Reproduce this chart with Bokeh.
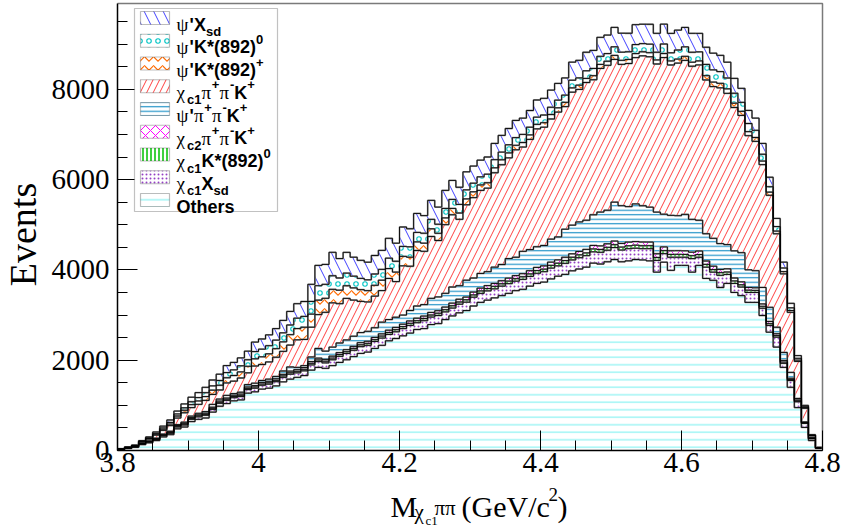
import numpy as np
from bokeh.plotting import figure
from bokeh.models import Range1d, FixedTicker, Label, BoxAnnotation, CustomJSTickFormatter
from bokeh.embed import file_html
from bokeh.resources import INLINE

# ---------------- binning ----------------
x_start, x_stop, n_bins = 3.8, 4.8, 100
y_max = 9900
x_major = [3.8, 4.0, 4.2, 4.4, 4.6, 4.8]
y_major = [0, 2000, 4000, 6000, 8000]

# ---------------- event counts per bin (bottom of the stack first) ----------------
others = [20, 45, 70, 130, 170, 220, 300, 350, 480, 520,
          640, 690, 720, 850, 980, 1040, 1100, 1120, 1270, 1300,
          1360, 1380, 1430, 1520, 1580, 1620, 1660, 1780, 1840, 1820,
          1880, 1950, 2010, 2080, 2150, 2180, 2260, 2330, 2430, 2480,
          2540, 2600, 2680, 2700, 2790, 2810, 2900, 2980, 3050, 3100,
          3200, 3280, 3330, 3380, 3430, 3480, 3540, 3570, 3640, 3700,
          3730, 3800, 3860, 3900, 3980, 4020, 4060, 4150, 4130, 4180,
          4230, 4180, 4200, 4230, 4220, 4200, 3950, 4170, 3990, 4100,
          4100, 3950, 4100, 3810, 3770, 3610, 3700, 3500, 3430, 3280,
          3280, 2990, 2620, 2290, 1840, 1400, 950, 510, 220, 45]

chic1_xsd = [3, 5, 8, 12, 15, 20, 25, 30, 40, 45,
             50, 55, 60, 60, 65, 70, 70, 75, 80, 80,
             85, 90, 95, 100, 110, 100, 105, 115, 130, 120,
             130, 135, 140, 140, 150, 150, 155, 160, 140, 150,
             160, 170, 150, 175, 165, 180, 170, 175, 190, 185,
             195, 200, 205, 200, 210, 215, 210, 220, 215, 225,
             230, 240, 230, 245, 240, 250, 255, 250, 260, 255,
             265, 260, 270, 250, 250, 270, 260, 190, 290, 180,
             180, 300, 180, 250, 180, 270, 200, 200, 190, 220,
             220, 160, 150, 220, 90, 150, 130, 90, 40, 10]

chic1_kst0 = [2, 3, 5, 6, 9, 10, 12, 15, 16, 19,
              20, 22, 21, 24, 23, 26, 25, 27, 25, 28,
              27, 30, 29, 32, 31, 34, 33, 36, 35, 38,
              37, 40, 38, 42, 41, 43, 40, 45, 43, 46,
              44, 47, 45, 49, 46, 50, 48, 51, 49, 53,
              51, 54, 52, 56, 53, 57, 55, 58, 56, 60,
              57, 61, 58, 62, 60, 63, 61, 64, 62, 65,
              63, 66, 64, 67, 65, 66, 64, 67, 63, 65,
              62, 64, 60, 62, 57, 59, 53, 55, 50, 51,
              46, 44, 39, 35, 29, 23, 17, 10, 6, 2]

chic2_ppk = [2, 3, 5, 7, 9, 11, 13, 15, 18, 20,
             22, 23, 25, 24, 27, 26, 29, 28, 31, 30,
             33, 32, 35, 34, 37, 36, 39, 38, 41, 40,
             43, 42, 45, 44, 47, 46, 49, 48, 51, 50,
             53, 52, 55, 54, 57, 56, 59, 58, 61, 60,
             63, 62, 65, 64, 67, 66, 69, 68, 71, 70,
             72, 71, 74, 73, 76, 75, 78, 77, 79, 78,
             81, 80, 82, 80, 83, 81, 83, 82, 81, 80,
             81, 78, 79, 75, 75, 71, 71, 66, 65, 60,
             58, 52, 49, 41, 36, 27, 21, 12, 6, 2]

psip_ppk = [3, 5, 6, 8, 10, 12, 14, 16, 20, 24,
            30, 34, 36, 63, 45, 59, 37, 41, 54, 53,
            45, 49, 51, 75, 92, 51, 43, 102, 214, 183,
            200, 214, 216, 225, 224, 221, 215, 259, 236, 225,
            203, 232, 270, 254, 312, 305, 304, 357, 300, 374,
            311, 325, 308, 361, 359, 433, 406, 495, 468, 458,
            451, 510, 508, 621, 635, 654, 646, 680, 750, 743,
            862, 836, 785, 834, 803, 773, 923, 724, 784, 775,
            807, 728, 680, 604, 618, 572, 536, 601, 646, 391,
            378, 365, 314, 144, 177, 130, 34, 10, 18, 3]

chic1_ppk = [3, 6, 7, 22, 39, 67, 82, 125, 145, 208,
             188, 198, 248, 220, 200, 275, 275, 315, 260, 380,
             355, 380, 425, 435, 485, 610, 580, 660, 750, 860,
             980, 870, 920, 800, 690, 650, 700, 700, 910, 790,
             1090, 980, 1230, 1180, 1370, 1250, 1520, 1600, 1470, 1670,
             1780, 1840, 1850, 2090, 2210, 2230, 2380, 2310, 2440, 2610,
             2620, 2660, 2765, 2715, 2945, 2935, 3050, 2990, 3180, 3210,
             3160, 3130, 3170, 3240, 3320, 3330, 3280, 3470, 3330, 3380,
             3410, 3390, 3440, 3405, 3360, 3450, 3350, 3175, 3040, 2970,
             2865, 2720, 2480, 2070, 1740, 1330, 820, 303, 36, 1]

psip_kstp = [2, 4, 6, 10, 14, 20, 26, 35, 45, 55,
             65, 75, 85, 95, 105, 115, 125, 135, 145, 160,
             170, 180, 190, 210, 230, 250, 270, 290, 320, 310,
             300, 300, 280, 270, 260, 250, 240, 230, 220, 210,
             210, 200, 190, 180, 170, 160, 150, 140, 140, 130,
             130, 120, 120, 110, 110, 110, 100, 100, 100, 100,
             100, 100, 95, 95, 95, 95, 90, 90, 90, 90,
             90, 90, 90, 90, 90, 90, 90, 90, 90, 90,
             90, 90, 90, 95, 100, 100, 100, 95, 90, 90,
             85, 80, 70, 60, 50, 40, 30, 15, 6, 2]

psip_kst0 = [2, 4, 6, 10, 15, 20, 28, 35, 45, 55,
             65, 75, 85, 95, 105, 115, 125, 135, 145, 160,
             170, 180, 190, 200, 215, 230, 240, 280, 320, 310,
             300, 270, 280, 260, 250, 240, 250, 240, 230, 240,
             220, 230, 210, 220, 210, 200, 210, 200, 190, 200,
             190, 180, 190, 180, 170, 180, 170, 180, 170, 160,
             170, 160, 170, 160, 170, 160, 170, 160, 180, 170,
             190, 180, 170, 200, 180, 190, 170, 210, 180, 200,
             210, 220, 200, 250, 270, 260, 240, 220, 200, 180,
             160, 150, 120, 100, 80, 60, 40, 20, 8, 2]

psip_xsd = [3, 5, 8, 15, 20, 30, 40, 55, 65, 85,
            100, 110, 120, 130, 140, 155, 165, 175, 190, 210,
            225, 240, 255, 275, 300, 320, 330, 380, 450, 440,
            520, 430, 460, 420, 400, 390, 410, 420, 440, 400,
            430, 400, 420, 390, 420, 380, 400, 420, 380, 400,
            380, 370, 380, 360, 370, 360, 380, 360, 370, 380,
            370, 380, 370, 380, 400, 390, 410, 400, 420, 410,
            430, 420, 410, 440, 430, 440, 420, 440, 430, 440,
            430, 420, 410, 380, 370, 360, 350, 330, 310, 290,
            270, 240, 210, 180, 130, 100, 60, 30, 10, 3]

# (counts, hatch pattern, hatch colour, hatch tile size, hatch weight) bottom -> top
layers = [
    (others,     "-",  "#8af2f2", 7.5, 1.2),
    (chic1_xsd,  ".",  "#9440c4", 4.0, 2.2),
    (chic1_kst0, "|",  "#00c000", 4.0, 1.5),
    (chic2_ppk,  "x",  "#ff00ff", 10.0, 1.0),
    (psip_ppk,   "-",  "#2394c8", 4.5, 1.2),
    (chic1_ppk,  "/",  "#ff2a2a", 13.0, 0.9),
    (psip_kstp,  "v",  "#ff6a00", 9.0, 1.1),
    (psip_kst0,  "o",  "#00c4c4", 9.0, 1.1),
    (psip_xsd,   "\\", "#2a2aff", 19.0, 0.9),
]

edges = np.linspace(x_start, x_stop, n_bins + 1)

# page geometry: the plotting box spans x 117..822 and y 3..450 (px);
# the frame covers the whole page and both axes are pinned inside it
W, H = 846, 528
BOX_L, BOX_R, BOX_T, BOX_B = 117, 822, 3, 450
x_per_px = (x_stop - x_start) / (BOX_R - BOX_L)
y_per_px = y_max / (BOX_B - BOX_T)
x_range = Range1d(x_start - BOX_L * x_per_px, x_stop + (W - BOX_R) * x_per_px)
y_range = Range1d(-(H - BOX_B) * y_per_px, y_max + BOX_T * y_per_px)

p = figure(width=W, height=H, x_range=x_range, y_range=y_range,
           output_backend="svg", toolbar_location=None,
           min_border_left=0, min_border_right=0, min_border_top=0, min_border_bottom=0)
p.xgrid.visible = False
p.ygrid.visible = False
p.background_fill_color = "white"
p.border_fill_color = "white"
p.outline_line_color = None

# stacked, hatched histogram bodies
cum = np.zeros(n_bins)
tops = []
for counts, pat, col, sc, wt in layers:
    lower = cum.copy()
    cum = cum + np.asarray(counts, dtype=float)
    xs, ys = [], []
    for i in range(n_bins):
        xs += [edges[i], edges[i + 1]]
        ys += [cum[i], cum[i]]
    for i in reversed(range(n_bins)):
        xs += [edges[i + 1], edges[i]]
        ys += [lower[i], lower[i]]
    p.patch(xs, ys, fill_color="white", line_color=None,
            hatch_pattern=pat, hatch_color=col, hatch_scale=sc, hatch_weight=wt)
    tops.append(cum.copy())

# histogram outlines
for top in tops:
    p.step(edges, list(top) + [top[-1]], mode="after", line_color="#9a9a9a", line_width=1.8)
for top in tops:
    p.step(edges, list(top) + [top[-1]], mode="after", line_color="black", line_width=0.9)

# top and right edges of the plotting box
p.line([x_start, x_stop, x_stop], [y_max, y_max, 0], line_color="#7a7a7a", line_width=1.5)

# axes, pinned at x = 3.8 and y = 0
serif = "Liberation Serif"
x_minor = [round(3.8 + 0.05 * k, 2) for k in range(21)]
y_minor = list(range(0, 10000, 500))
p.xaxis.fixed_location = x_start
p.xaxis.fixed_location = 0
p.yaxis.fixed_location = x_start
p.xaxis.bounds = (x_start, x_stop)
p.yaxis.bounds = (0, y_max)
p.xaxis.ticker = FixedTicker(ticks=x_major, minor_ticks=x_minor)
p.yaxis.ticker = FixedTicker(ticks=y_major, minor_ticks=y_minor)
p.xaxis.formatter = CustomJSTickFormatter(code="return tick.toFixed(1).replace(/\\.0$/, '');")
for ax in (p.xaxis, p.yaxis):
    ax.major_tick_in = 20
    ax.major_tick_out = 0
    ax.minor_tick_in = 10
    ax.minor_tick_out = 0
    ax.axis_line_color = "black"
    ax.axis_line_width = 1.5
    ax.major_tick_line_color = "black"
    ax.minor_tick_line_color = "black"
    ax.major_label_text_font = serif
    ax.major_label_text_font_size = "29px"
    ax.major_label_text_color = "black"
p.yaxis.major_label_standoff = 8
p.xaxis.major_label_standoff = 2


def sy(cy):
    return H - cy


def put(text, cx, cy, size, font="Liberation Sans", style="bold", **kw):
    p.add_layout(Label(x=cx, y=sy(cy), x_units="screen", y_units="screen", text=text,
                       text_font=font, text_font_size=f"{size}px", text_font_style=style,
                       text_color="black", **kw))


def put_left(text, cx, cy, size, font="Liberation Sans", style="bold"):
    put(text, cx, cy, size, font, style, text_align="left", text_baseline="alphabetic")


# y-axis title
put("Events", 22, 234, 38, serif, "normal", text_align="center", text_baseline="middle",
    angle=90, angle_units="deg")

# x-axis title: M_{chi_c1 pi pi} (GeV/c^2)
put_left("M", 390, 506, 30, serif, "normal")
put_left("χ", 414, 511, 21, serif, "normal")
put_left("c1", 425, 520, 13, serif, "normal")
put_left("ππ", 434, 507, 21, serif, "normal")
put_left("(GeV/c", 461, 506, 30, serif, "normal")
put_left("2", 548, 494, 19, serif, "normal")
put_left(")", 557, 506, 30, serif, "normal")

# legend
p.add_layout(BoxAnnotation(left=134, right=277, top=sy(8), bottom=sy(211),
                           left_units="screen", right_units="screen",
                           top_units="screen", bottom_units="screen",
                           fill_color="white", fill_alpha=1.0,
                           line_color="#333333", line_width=1.2))

legend_rows = [
    [("ψ", "g"), ("'", "b"), ("X", "b"), ("sd", "sub")],
    [("ψ", "g"), ("'", "b"), ("K*(892)", "b"), ("0", "sup")],
    [("ψ", "g"), ("'", "b"), ("K*(892)", "b"), ("+", "sup")],
    [("χ", "g"), ("c1", "sub"), ("π", "g"), ("+", "sup"), ("π", "g"), ("-", "sup"), ("K", "b"), ("+", "sup")],
    [("ψ", "g"), ("'", "b"), ("π", "g"), ("+", "sup"), ("π", "g"), ("-", "sup"), ("K", "b"), ("+", "sup")],
    [("χ", "g"), ("c2", "sub"), ("π", "g"), ("+", "sup"), ("π", "g"), ("-", "sup"), ("K", "b"), ("+", "sup")],
    [("χ", "g"), ("c1", "sub"), ("K*(892)", "b"), ("0", "sup")],
    [("χ", "g"), ("c1", "sub"), ("X", "b"), ("sd", "sub")],
    [("Others", "b")],
]
legend_layers = [layers[i] for i in (8, 7, 6, 5, 4, 3, 2, 1, 0)]

em = {"K": .722, "*": .389, "(": .333, ")": .333, "8": .556, "9": .556, "2": .556, "X": .667,
      "'": .238, "O": .778, "t": .333, "h": .611, "e": .556, "r": .389, "s": .556, "d": .611,
      "c": .556, "1": .556, "0": .556, "+": .584, "-": .333, "ψ": .69, "χ": .55, "π": .55}
kinds = {"g": (19, serif, "normal", 0), "b": (18, "Liberation Sans", "bold", 0),
         "sub": (13, "Liberation Sans", "bold", 7), "sup": (13, "Liberation Sans", "bold", -8)}

for k, (row, lay) in enumerate(zip(legend_rows, legend_layers)):
    cy = 17.5 + 22.75 * k
    _, pat, col, sc, wt = lay
    p.add_layout(BoxAnnotation(left=140, right=169, top=sy(cy - 6.5), bottom=sy(cy + 6.5),
                               left_units="screen", right_units="screen",
                               top_units="screen", bottom_units="screen",
                               fill_color="white", fill_alpha=1.0,
                               hatch_pattern=pat, hatch_color=col, hatch_scale=sc, hatch_weight=wt,
                               line_color="#222222", line_width=1.2))
    x = 176.0
    base = cy + 6.5
    for text, kind in row:
        size, font, style, dy = kinds[kind]
        put_left(text, x, base + dy, size, font, style)
        x += sum(em.get(ch, .55) for ch in text) * size

open("out.html", "w").write(file_html(p, INLINE))
